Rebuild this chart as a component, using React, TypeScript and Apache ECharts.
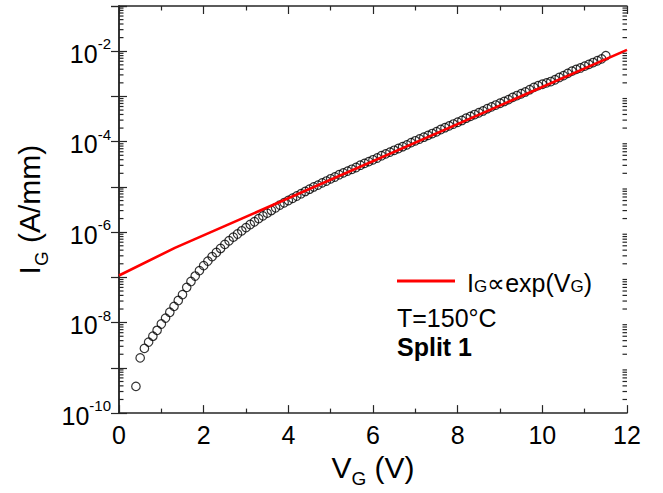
import React, { useEffect, useRef } from "react";
import * as echarts from "echarts";

// Gate voltage (V) of each measured point
const VG = [
  0.4, 0.5, 0.6, 0.7, 0.8, 0.9, 1.0, 1.1, 1.2, 1.3, 1.4, 1.5, 1.6, 1.7, 1.8, 1.9,
  2.0, 2.1, 2.2, 2.3, 2.4, 2.5, 2.6, 2.7, 2.8, 2.9, 3.0, 3.1, 3.2, 3.3, 3.4, 3.5,
  3.6, 3.7, 3.8, 3.9, 4.0, 4.1, 4.2, 4.3, 4.4, 4.5, 4.6, 4.7, 4.8, 4.9, 5.0, 5.1,
  5.2, 5.3, 5.4, 5.5, 5.6, 5.7, 5.8, 5.9, 6.0, 6.1, 6.2, 6.3, 6.4, 6.5, 6.6, 6.7,
  6.8, 6.9, 7.0, 7.1, 7.2, 7.3, 7.4, 7.5, 7.6, 7.7, 7.8, 7.9, 8.0, 8.1, 8.2, 8.3,
  8.4, 8.5, 8.6, 8.7, 8.8, 8.9, 9.0, 9.1, 9.2, 9.3, 9.4, 9.5, 9.6, 9.7, 9.8, 9.9,
  10.0, 10.1, 10.2, 10.3, 10.4, 10.5, 10.6, 10.7, 10.8, 10.9, 11.0, 11.1, 11.2,
  11.3, 11.4, 11.5,
];

// log10 of gate current I_G (A/mm) for each point
const LOG_IG = [
  -9.41, -8.78, -8.57, -8.43, -8.3, -8.17, -8.03, -7.9, -7.77, -7.64, -7.51, -7.38,
  -7.22, -7.09, -6.97, -6.85, -6.74, -6.64, -6.54, -6.45, -6.36, -6.27, -6.19, -6.11,
  -6.04, -5.97, -5.9, -5.83, -5.77, -5.7, -5.64, -5.58, -5.52, -5.46, -5.4, -5.35,
  -5.3, -5.25, -5.2, -5.15, -5.1, -5.05, -5.0, -4.96, -4.91, -4.87, -4.82, -4.78,
  -4.73, -4.69, -4.65, -4.61, -4.57, -4.52, -4.48, -4.44, -4.4, -4.36, -4.31, -4.27,
  -4.23, -4.19, -4.15, -4.11, -4.07, -4.02, -3.98, -3.94, -3.9, -3.86, -3.82, -3.78,
  -3.73, -3.69, -3.65, -3.61, -3.57, -3.53, -3.48, -3.44, -3.4, -3.36, -3.32, -3.27,
  -3.23, -3.19, -3.15, -3.11, -3.07, -3.02, -2.98, -2.94, -2.9, -2.85, -2.8, -2.76,
  -2.73, -2.7, -2.67, -2.63, -2.58, -2.54, -2.49, -2.44, -2.4, -2.37, -2.33, -2.29,
  -2.25, -2.21, -2.17, -2.1,
];

// exponential fit line I_G ∝ exp(V_G)
const FIT_VG = [0, 1.32, 12];
const FIT_IG = [1.1e-7, 4.5e-7, 1.07e-2];

// axis settings
const X_MIN = 0;
const X_MAX = 12;
const X_INTERVAL = 2;
const Y_MIN_EXP = -10;
const Y_MAX_EXP = -1;
const Y_LABEL_EXPS = [-10, -8, -6, -4, -2];

const FONT = "'Liberation Sans', Arial, Helvetica, sans-serif";
const AXIS_COLOR = "#262626";

export default function App() {
  const ref = useRef<HTMLDivElement>(null);

  useEffect(() => {
    if (!ref.current) return;
    const chart = echarts.init(ref.current, undefined, { renderer: "svg" });

    const scatterData = VG.map((v, i) => [v, Math.pow(10, LOG_IG[i])]);
    const fitData = FIT_VG.map((v, i) => [v, FIT_IG[i]]);

    // minor log ticks (2..9 within each decade)
    const minorTicks: number[][] = [];
    for (let e = Y_MIN_EXP; e < Y_MAX_EXP; e++) {
      for (let k = 2; k <= 9; k++) minorTicks.push([0, k * Math.pow(10, e)]);
    }

    const xAxisBase = {
      type: "value" as const,
      min: X_MIN,
      max: X_MAX,
      interval: X_INTERVAL,
      splitLine: { show: false },
      axisLine: { show: true, lineStyle: { color: AXIS_COLOR, width: 1.5 } },
      axisTick: { show: true, inside: true, length: 8, lineStyle: { color: AXIS_COLOR, width: 1.2 } },
      minorTick: { show: true, splitNumber: 2, length: 4.5, lineStyle: { color: AXIS_COLOR, width: 1.2 } },
      minorSplitLine: { show: false },
    };

    const yAxisBase = {
      type: "log" as const,
      logBase: 10,
      min: Math.pow(10, Y_MIN_EXP),
      max: Math.pow(10, Y_MAX_EXP),
      splitNumber: Y_MAX_EXP - Y_MIN_EXP,
      splitLine: { show: false },
      axisLine: { show: true, lineStyle: { color: AXIS_COLOR, width: 1.5 } },
      axisTick: { show: true, inside: true, length: 8, lineStyle: { color: AXIS_COLOR, width: 1.2 } },
    };

    chart.setOption({
      animation: false,
      backgroundColor: "#fff",
      textStyle: { fontFamily: FONT },
      grid: { left: 119, right: 36, top: 6, bottom: 75, containLabel: false },
      legend: {
        show: true,
        data: ["IG∝exp(VG)"],
        left: 397,
        top: 270,
        padding: 0,
        icon: "rect",
        itemWidth: 58,
        itemHeight: 3,
        formatter: () => "{m|I}{s|G}{m|∝exp(V}{s|G}{m|)}",
        textStyle: {
          color: "#000",
          fontFamily: FONT,
          fontSize: 25,
          padding: [0, 0, 0, 7],
          rich: {
            m: { fontSize: 25, fontFamily: FONT, color: "#000", verticalAlign: "bottom", lineHeight: 28 },
            s: { fontSize: 17, fontFamily: FONT, color: "#000", verticalAlign: "bottom", lineHeight: 24 },
          },
        },
      },
      xAxis: [
        {
          ...xAxisBase,
          position: "bottom",
          axisLabel: { show: true, fontSize: 25, color: "#000", margin: 9, fontFamily: FONT },
          name: "V{s|G} (V)",
          nameLocation: "middle",
          nameGap: 34,
          nameTextStyle: {
            fontSize: 30,
            color: "#000",
            fontFamily: FONT,
            rich: {
              s: { fontSize: 19, fontFamily: FONT, color: "#000", verticalAlign: "bottom", padding: [0, 0, -6, 0] },
            },
          },
        },
        {
          ...xAxisBase,
          position: "top",
          axisLabel: { show: false },
        },
      ],
      yAxis: [
        {
          ...yAxisBase,
          position: "left",
          axisLabel: {
            show: true,
            margin: 8,
            color: "#000",
            fontFamily: FONT,
            formatter: (v: number) => {
              const e = Math.round(Math.log10(v));
              return Y_LABEL_EXPS.includes(e) ? `{b|10}{p|${e}}` : "";
            },
            rich: {
              b: { fontSize: 25, fontFamily: FONT, color: "#000", verticalAlign: "bottom", lineHeight: 30 },
              p: { fontSize: 15, fontFamily: FONT, color: "#000", verticalAlign: "top", lineHeight: 30, padding: [0, 0, 0, 0] },
            },
          },
          name: "I{s|G} (A/mm)",
          nameLocation: "middle",
          nameGap: 68,
          nameTextStyle: {
            fontSize: 30,
            color: "#000",
            fontFamily: FONT,
            rich: {
              s: { fontSize: 19, fontFamily: FONT, color: "#000", verticalAlign: "bottom", padding: [0, 0, -6, 0] },
            },
          },
        },
        {
          ...yAxisBase,
          position: "right",
          axisLabel: { show: false },
        },
      ],
      graphic: [
        {
          type: "text",
          left: 397,
          top: 305,
          style: { text: "T=150°C", font: `25px ${FONT}`, fill: "#000" },
        },
        {
          type: "text",
          left: 397,
          top: 334,
          style: { text: "Split 1", font: `bold 25px ${FONT}`, fill: "#000" },
        },
      ],
      series: [
        {
          name: "minorTicks",
          type: "custom",
          silent: true,
          xAxisIndex: 0,
          yAxisIndex: 0,
          z: 5,
          clip: false,
          data: minorTicks,
          renderItem: (params: any, api: any) => {
            const cs = params.coordSys;
            const y = api.coord([0, api.value(1)])[1];
            const l = cs.x;
            const r = cs.x + cs.width;
            const st = { stroke: AXIS_COLOR, lineWidth: 1.2 };
            return {
              type: "group",
              children: [
                { type: "line", shape: { x1: l, y1: y, x2: l + 4.5, y2: y }, style: st },
                { type: "line", shape: { x1: r - 4.5, y1: y, x2: r, y2: y }, style: st },
              ],
            };
          },
        },
        {
          name: "data",
          type: "scatter",
          xAxisIndex: 0,
          yAxisIndex: 0,
          z: 2,
          symbol: "circle",
          symbolSize: 8.5,
          itemStyle: { color: "rgba(0,0,0,0)", borderColor: "#000", borderWidth: 1.2 },
          data: scatterData,
        },
        {
          name: "IG∝exp(VG)",
          type: "line",
          xAxisIndex: 0,
          yAxisIndex: 0,
          z: 3,
          showSymbol: false,
          symbol: "none",
          lineStyle: { color: "#f00", width: 2.6 },
          itemStyle: { color: "#f00" },
          data: fitData,
        },
      ],
    });

    return () => chart.dispose();
  }, []);

  return <div ref={ref} style={{ width: 663, height: 493, position: "absolute", left: 0, top: 0 }} />;
}
